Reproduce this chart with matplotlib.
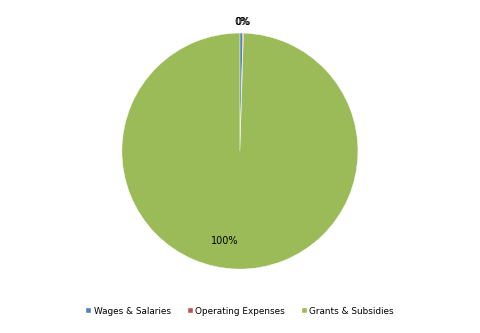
import matplotlib.pyplot as plt
import numpy as np

categories = ['Wages & Salaries', 'Operating Expenses', 'Grants & Subsidies']
values = [0.4, 0.08, 99.52]
colors = ['#4F81BD', '#C0504D', '#9BBB59']

total = sum(values)
small_labels = ['%d%%' % round(v / total * 100) if v / total < 0.01 else '' for v in values]

fig = plt.figure(figsize=(4.8, 3.33), dpi=100)
ax = fig.add_axes([0.254, 0.192, 236 / 480, 236 / 333])

wedges, texts, autotexts = ax.pie(
    values, colors=colors, startangle=90, counterclock=False,
    labels=small_labels, labeldistance=1.09,
    autopct=lambda p: '%d%%' % round(p) if p >= 1 else '',
    pctdistance=0.76,
    textprops={'fontsize': 7, 'color': '#000000'},
    wedgeprops={'linewidth': 0.3, 'edgecolor': 'white'},
)
for t in texts:
    t.set_ha('center')
for t in autotexts:
    t.set_ha('right')
ax.set_xlim(-1, 1)
ax.set_ylim(-1, 1)
ax.set_aspect('equal')

fig.legend(wedges, categories, loc='center', bbox_to_anchor=(0.5, 0.066),
           ncol=3, frameon=False, fontsize=6.4, handlelength=0.6, handleheight=0.6,
           handletextpad=0.25, columnspacing=1.9)

fig.savefig('out.png', dpi=100)
